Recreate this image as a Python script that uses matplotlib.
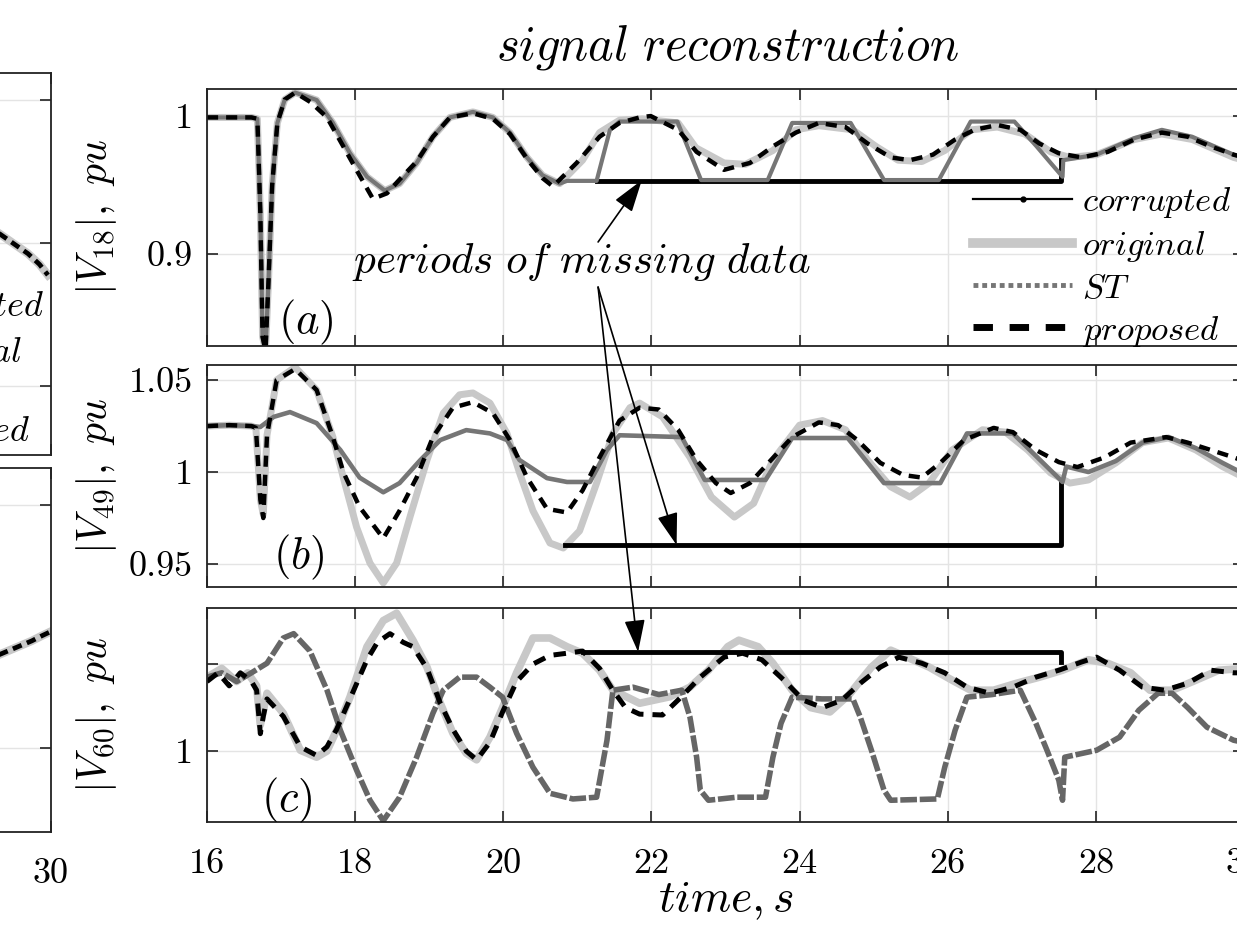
import matplotlib
matplotlib.use('Agg')
import matplotlib.pyplot as plt
from matplotlib.lines import Line2D

plt.rcParams['font.family'] = 'serif'
plt.rcParams['font.serif'] = ['cmr10', 'DejaVu Serif']
plt.rcParams['mathtext.fontset'] = 'cm'
plt.rcParams['axes.unicode_minus'] = False
plt.rcParams['axes.formatter.use_mathtext'] = True

# ---- data: (time [s], |V| [pu]) ----
orig_a = [(16.0, 0.999), (16.3, 0.999), (16.6, 0.999), (16.68, 0.998), (16.72, 0.93), (16.75, 0.84),
          (16.79, 0.83), (16.83, 0.88), (16.88, 0.95), (16.95, 0.995), (17.05, 1.012), (17.19, 1.017),
          (17.48, 1.0116), (17.70, 0.995), (17.93, 0.973), (18.16, 0.956), (18.40, 0.946), (18.60, 0.951),
          (18.83, 0.966), (19.05, 0.985), (19.28, 0.999), (19.59, 1.003), (19.86, 0.999), (20.09, 0.988),
          (20.32, 0.970), (20.53, 0.957), (20.76, 0.951), (21.07, 0.968), (21.30, 0.988), (21.57, 0.997),
          (21.88, 0.998), (22.36, 0.995), (22.60, 0.977), (22.98, 0.966), (23.27, 0.965), (23.64, 0.975),
          (23.95, 0.990), (24.26, 0.993), (24.72, 0.990), (25.03, 0.978), (25.33, 0.968), (25.65, 0.967),
          (25.96, 0.975), (26.32, 0.990), (26.67, 0.992), (27.04, 0.987), (27.39, 0.974), (27.65, 0.970),
          (28.01, 0.972), (28.52, 0.983), (28.89, 0.987), (29.30, 0.983), (29.86, 0.970), (30.0, 0.968)]
st_a_gap = [(20.86, 0.953), (21.26, 0.953), (21.44, 0.990), (21.57, 0.996), (22.35, 0.996), (22.67, 0.9536),
            (23.57, 0.9536), (23.90, 0.995), (24.69, 0.995), (25.14, 0.9536), (25.88, 0.9536), (26.31, 0.996),
            (26.90, 0.996), (27.20, 0.978), (27.39, 0.966), (27.55, 0.956), (27.56, 0.968), (28.01, 0.972),
            (28.52, 0.984), (28.89, 0.990), (29.30, 0.985), (29.86, 0.972), (30.0, 0.970)]
st_a = orig_a[:27] + st_a_gap
prop_a = [(16.0, 0.999), (16.3, 0.999), (16.6, 0.999), (16.68, 0.998), (16.72, 0.93), (16.75, 0.84),
          (16.79, 0.83), (16.83, 0.88), (16.88, 0.95), (16.95, 0.995), (17.05, 1.012), (17.19, 1.017),
          (17.40, 1.010), (17.62, 0.999), (17.84, 0.978), (18.07, 0.956), (18.24, 0.940), (18.43, 0.944),
          (18.60, 0.954), (18.83, 0.967), (19.05, 0.985), (19.28, 0.999), (19.59, 1.002), (19.86, 0.998),
          (20.09, 0.987), (20.32, 0.969), (20.53, 0.955), (20.67, 0.949), (20.99, 0.966), (21.30, 0.985),
          (21.57, 0.995), (21.84, 0.999), (21.99, 1.000), (22.36, 0.990), (22.61, 0.974), (22.98, 0.961),
          (23.33, 0.966), (23.64, 0.978), (23.95, 0.988), (24.26, 0.995), (24.62, 0.992), (24.92, 0.980),
          (25.23, 0.970), (25.49, 0.968), (25.80, 0.972), (26.10, 0.983), (26.36, 0.990), (26.67, 0.9935),
          (26.98, 0.990), (27.24, 0.980), (27.50, 0.973), (27.81, 0.970), (28.16, 0.974), (28.52, 0.983),
          (28.89, 0.988), (29.24, 0.985), (29.55, 0.978), (29.86, 0.972), (30.0, 0.970)]
corr_a = [(21.26, 0.953), (27.53, 0.953), (27.53, 0.968)]

orig_b = [(16.0, 1.025), (16.3, 1.0255), (16.6, 1.025), (16.66, 1.024), (16.72, 0.985), (16.76, 0.977),
          (16.81, 1.020), (16.94, 1.050), (17.19, 1.057), (17.48, 1.0446), (17.70, 1.019), (17.84, 0.997),
          (18.02, 0.970), (18.20, 0.9505), (18.38, 0.9397), (18.56, 0.9505), (18.74, 0.9755), (18.97, 1.0065),
          (19.19, 1.032), (19.41, 1.042), (19.59, 1.043), (19.82, 1.0375), (20.05, 1.021), (20.22, 0.9995),
          (20.40, 0.979), (20.63, 0.9614), (20.81, 0.9587), (21.03, 0.968), (21.26, 0.994), (21.48, 1.021),
          (21.71, 1.035), (21.84, 1.0375), (22.15, 1.030), (22.52, 1.008), (22.81, 0.9864), (23.12, 0.9755),
          (23.38, 0.983), (23.64, 1.0065), (24.00, 1.0255), (24.31, 1.028), (24.62, 1.023), (24.92, 1.0065),
          (25.23, 0.992), (25.49, 0.9864), (25.75, 0.994), (26.06, 1.012), (26.47, 1.023), (26.78, 1.0217),
          (27.08, 1.012), (27.39, 0.9995), (27.65, 0.994), (27.90, 0.9957), (28.27, 1.005), (28.63, 1.016),
          (28.98, 1.0185), (29.35, 1.012), (29.71, 1.003), (30.0, 0.997)]
st_b = [(16.0, 1.025), (16.3, 1.0255), (16.6, 1.025), (16.72, 1.0245), (16.90, 1.030), (17.12, 1.0326),
        (17.48, 1.0266), (17.80, 1.012), (18.06, 0.997), (18.38, 0.989), (18.60, 0.994), (18.88, 1.0065),
        (19.15, 1.0174), (19.50, 1.0228), (19.82, 1.021), (20.05, 1.0174), (20.22, 1.0065), (20.59, 0.9967),
        (20.86, 0.9946), (21.17, 0.9946), (21.40, 1.012), (21.57, 1.020), (22.41, 1.019), (22.72, 0.9957),
        (23.54, 0.9957), (23.90, 1.0185), (24.65, 1.0185), (25.14, 0.994), (25.90, 0.994), (26.26, 1.021),
        (26.88, 1.021), (27.55, 0.9946), (27.60, 1.003), (27.90, 1.000), (28.27, 1.006), (28.63, 1.016),
        (28.98, 1.019), (29.35, 1.013), (29.71, 1.005), (30.0, 0.999)]
prop_b = [(16.0, 1.025), (16.3, 1.0255), (16.6, 1.025), (16.66, 1.024), (16.72, 0.985), (16.76, 0.975),
          (16.81, 1.020), (16.94, 1.050), (17.19, 1.056), (17.48, 1.0446), (17.70, 1.019), (17.84, 1.000),
          (18.06, 0.981), (18.38, 0.964), (18.60, 0.979), (18.83, 0.997), (19.05, 1.019), (19.32, 1.035),
          (19.59, 1.038), (19.86, 1.032), (20.09, 1.0174), (20.32, 0.997), (20.59, 0.980), (20.86, 0.978),
          (21.07, 0.990), (21.30, 1.008), (21.57, 1.028), (21.84, 1.035), (22.10, 1.034), (22.36, 1.023),
          (22.61, 1.0065), (22.87, 0.994), (23.07, 0.9886), (23.33, 0.994), (23.58, 1.005), (23.90, 1.019),
          (24.26, 1.027), (24.52, 1.0255), (24.78, 1.0174), (25.09, 1.005), (25.40, 0.9984), (25.65, 0.997),
          (25.90, 1.005), (26.22, 1.0174), (26.62, 1.024), (26.88, 1.0217), (27.19, 1.012), (27.50, 1.0054),
          (27.75, 1.0027), (28.12, 1.008), (28.47, 1.016), (28.95, 1.019), (29.24, 1.016), (29.55, 1.012),
          (29.86, 1.008), (30.0, 1.006)]
corr_b = [(20.83, 0.9603), (27.53, 0.9603), (27.53, 0.994)]

orig_c = [(16.0, 1.017), (16.2, 1.019), (16.4, 1.016), (16.55, 1.018), (16.67, 1.015), (16.72, 1.006),
          (16.81, 1.0133), (17.03, 1.0087), (17.26, 1.0002), (17.48, 0.9986), (17.62, 1.000), (17.75, 1.0048),
          (17.93, 1.0124), (18.16, 1.024), (18.38, 1.030), (18.56, 1.0317), (18.78, 1.0255), (18.97, 1.0193),
          (19.15, 1.011), (19.32, 1.0041), (19.50, 0.9995), (19.64, 0.998), (19.82, 1.0032), (19.99, 1.010),
          (20.18, 1.018), (20.40, 1.026), (20.63, 1.026), (20.86, 1.024), (21.07, 1.0225), (21.30, 1.0186),
          (21.48, 1.014), (21.84, 1.011), (22.25, 1.0125), (22.52, 1.0147), (22.77, 1.0186), (23.03, 1.024),
          (23.18, 1.0255), (23.44, 1.024), (23.64, 1.0202), (23.90, 1.014), (24.15, 1.010), (24.41, 1.009),
          (24.67, 1.013), (24.97, 1.0193), (25.23, 1.0232), (25.45, 1.0216), (25.75, 1.0193), (26.06, 1.0163),
          (26.31, 1.014), (26.62, 1.014), (26.93, 1.0156), (27.24, 1.017), (27.55, 1.0186), (27.90, 1.021),
          (28.16, 1.0202), (28.47, 1.018), (28.73, 1.014), (29.03, 1.014), (29.35, 1.0163), (29.66, 1.0186),
          (30.0, 1.019)]
st_c = [(16.0, 1.017), (16.2, 1.018), (16.4, 1.016), (16.6, 1.018), (16.81, 1.0202), (17.03, 1.026),
        (17.17, 1.027), (17.39, 1.023), (17.62, 1.014), (17.80, 1.0048), (18.02, 0.9956), (18.20, 0.9887),
        (18.38, 0.984), (18.60, 0.9894), (18.83, 0.9986), (19.05, 1.0087), (19.19, 1.014), (19.41, 1.017),
        (19.64, 1.017), (19.82, 1.0147), (19.99, 1.0124), (20.18, 1.0041), (20.40, 0.9963), (20.63, 0.9903),
        (20.94, 0.989), (21.26, 0.9894), (21.40, 1.0025), (21.48, 1.014), (21.75, 1.0147), (22.10, 1.013),
        (22.41, 1.014), (22.52, 1.0078), (22.61, 0.9986), (22.66, 0.991), (22.77, 0.9887), (23.15, 0.9894),
        (23.54, 0.9894), (23.64, 0.9986), (23.75, 1.0064), (23.90, 1.0124), (24.30, 1.012), (24.72, 1.012),
        (24.82, 1.0078), (24.97, 1.0002), (25.14, 0.991), (25.23, 0.9887), (25.86, 0.989), (25.96, 0.9963),
        (26.10, 1.0048), (26.26, 1.0124), (26.60, 1.013), (26.98, 1.014), (27.19, 1.0064), (27.34, 1.0002),
        (27.50, 0.9933), (27.55, 0.9887), (27.58, 0.9986), (28.01, 1.0002), (28.32, 1.0032), (28.58, 1.0094),
        (28.84, 1.0133), (29.03, 1.0133), (29.24, 1.010), (29.50, 1.0055), (29.86, 1.0025), (30.0, 1.002)]
prop_c = [(16.0, 1.016), (16.15, 1.018), (16.3, 1.015), (16.45, 1.018), (16.6, 1.016), (16.67, 1.014),
          (16.72, 1.004), (16.76, 1.008), (16.81, 1.012), (17.03, 1.008), (17.26, 1.001), (17.48, 0.999),
          (17.62, 1.001), (17.75, 1.005), (17.93, 1.012), (18.16, 1.021), (18.30, 1.025), (18.47, 1.027),
          (18.65, 1.025), (18.78, 1.024), (18.97, 1.019), (19.15, 1.011), (19.32, 1.005), (19.50, 1.000),
          (19.64, 0.998), (19.82, 1.002), (19.99, 1.009), (20.18, 1.016), (20.40, 1.020), (20.63, 1.022),
          (20.86, 1.0225), (21.07, 1.023), (21.30, 1.019), (21.48, 1.014), (21.65, 1.010), (21.84, 1.0085),
          (22.15, 1.0083), (22.40, 1.0124), (22.66, 1.017), (22.98, 1.0216), (23.23, 1.0225), (23.49, 1.021),
          (23.79, 1.0163), (24.05, 1.0117), (24.31, 1.010), (24.57, 1.0117), (24.82, 1.0156), (25.09, 1.0193),
          (25.34, 1.0216), (25.65, 1.0202), (25.96, 1.018), (26.26, 1.0147), (26.57, 1.0133), (26.88, 1.0147),
          (27.19, 1.017), (27.50, 1.0186), (27.81, 1.0205), (28.01, 1.0216), (28.32, 1.0186), (28.63, 1.0147),
          (28.93, 1.014), (29.24, 1.0156), (29.55, 1.0186), (29.86, 1.018), (30.0, 1.018)]
corr_c = [(21.07, 1.0228), (27.53, 1.0228), (27.53, 1.0205)]

# partly visible panels on the left (only their right end shows)
left_top = [(28.6, 0.9815), (29.0, 0.9800), (29.4, 0.9785), (29.7, 0.9770), (29.92, 0.9755)]
left_bot = [(28.6, 1.0076), (28.9, 1.0080), (29.2, 1.0084), (29.5, 1.0088), (29.75, 1.0092), (29.95, 1.0095)]

xticks = [16, 18, 20, 22, 24, 26, 28, 30]
yticks_a, ylab_a = [0.9, 1.0], ['0.9', '1']
yticks_b, ylab_b = [0.95, 1.0, 1.05], ['0.95', '1', '1.05']
yticks_c, ylab_c = [1.0, 1.02], ['1', '']
labels = ['corrupted', 'original', 'ST', 'proposed']

C_ORIG = '#c8c8c8'
C_ST = '#767676'

W, H = 1237, 933
fig = plt.figure(figsize=(W / 100, H / 100), dpi=100)


def box(l, t, r, b):
    return [l / W, 1 - b / H, (r - l) / W, (b - t) / H]


def style(ax, yt, yl, xl=True):
    ax.set_xlim(16, 30)
    ax.set_xticks(xticks)
    ax.set_xticklabels([str(x) for x in xticks] if xl else [])
    ax.set_yticks(yt)
    ax.set_yticklabels(yl)
    ax.grid(True, color='#e4e4e4', lw=1.0)
    ax.set_axisbelow(True)
    ax.tick_params(direction='in', length=8, width=1.2, top=True, right=True,
                   labelsize=26, color='#222222')
    ax.tick_params(axis='x', pad=19)
    ax.tick_params(axis='y', pad=10)
    for s in ax.spines.values():
        s.set_linewidth(1.3)
        s.set_color('#222222')


def xy(pts):
    return [p[0] for p in pts], [p[1] for p in pts]


def draw(ax, orig, st, prop, corr, st_ls='-', st_lw=3.0, st_col=C_ST, noisy=False):
    ax.plot(*xy(orig), color=C_ORIG, lw=5.5 if noisy else 5, solid_joinstyle='round')
    ax.plot(*xy(corr), color='black', lw=3.5)
    ax.plot(*xy(st), color=st_col, lw=st_lw, ls=st_ls)
    ax.plot(*xy(prop), color='black', lw=3.6 if noisy else 3.2, dashes=(2.5, 1.8))


ax_a = fig.add_axes(box(207, 89, 1244, 346))
ax_b = fig.add_axes(box(207, 365, 1244, 587))
ax_c = fig.add_axes(box(207, 608, 1244, 822))

draw(ax_a, orig_a, st_a, prop_a, corr_a)
draw(ax_b, orig_b, st_b, prop_b, corr_b, st_lw=3.3)
draw(ax_c, orig_c, st_c, prop_c, corr_c, st_ls=(0, (3.0, 0.5)), st_lw=4.0, st_col='#666666', noisy=True)

ax_a.set_ylim(0.8333, 1.0196)
ax_b.set_ylim(0.9375, 1.0582)
ax_c.set_ylim(0.9837, 1.0329)
style(ax_a, yticks_a, ylab_a, xl=False)
style(ax_b, yticks_b, ylab_b, xl=False)
style(ax_c, yticks_c, ylab_c)

for ax, lab in [(ax_a, r'$|V_{18}|,\ pu$'), (ax_b, r'$|V_{49}|,\ pu$'), (ax_c, r'$|V_{60}|,\ pu$')]:
    ax.set_ylabel(lab, fontsize=30)
    ax.yaxis.set_label_coords(-0.085, 0.5)
ax_c.set_xlabel(r'$time, s$', fontsize=33, labelpad=0)

ax_a.text(0.095, 0.09, r'$(a)$', transform=ax_a.transAxes, fontsize=32, ha='center', va='center')
ax_b.text(0.088, 0.135, r'$(b)$', transform=ax_b.transAxes, fontsize=32, ha='center', va='center')
ax_c.text(0.077, 0.10, r'$(c)$', transform=ax_c.transAxes, fontsize=32, ha='center', va='center')

fig.text(728 / W, 1 - 47 / H, r'$signal\ reconstruction$', fontsize=35, ha='center', va='center')

# legend of panel (a)
handles = [
    Line2D([], [], color='black', lw=1.6, marker='.', markersize=7),
    Line2D([], [], color=C_ORIG, lw=7),
    Line2D([], [], color=C_ST, lw=3.5, ls=(0, (1, 0.8))),
    Line2D([], [], color='black', lw=5, dashes=(2.8, 2.4)),
]
ax_a.legend(handles, [r'$%s$' % s for s in labels], loc='upper left',
            bbox_to_anchor=(0.7387, 0.627), frameon=False, fontsize=25,
            handlelength=2.85, handletextpad=0.29, labelspacing=0.26, borderpad=0, borderaxespad=0)

# annotation with arrows
ax_a.text(21.06, 0.894, r'$periods\ of\ missing\ data$', fontsize=31, ha='center', va='center')
arrow = dict(arrowstyle='-|>,head_length=1.0,head_width=0.32', color='black', lw=1.2,
             mutation_scale=20, shrinkA=0, shrinkB=0)
ax_a.annotate('', xy=(21.87, 0.9535), xytext=(21.28, 0.9087), arrowprops=arrow, annotation_clip=False)
ax_b.annotate('', xy=(22.34, 0.9603), xytext=(21.28, 0.876), textcoords=ax_a.transData,
              arrowprops=arrow, annotation_clip=False)
ax_c.annotate('', xy=(21.82, 1.0228), xytext=(21.28, 0.876), textcoords=ax_a.transData,
              arrowprops=arrow, annotation_clip=False)

# left neighbour panels, cut by the image border
ax_l1 = fig.add_axes(box(-486, 73, 51, 455))
ax_l2 = fig.add_axes(box(-486, 468, 51, 832))
for ax, pts, yt, lim in [(ax_l1, left_top, [0.96, 0.98, 1.0], (0.9503, 1.0038)),
                         (ax_l2, left_bot, [1.0, 1.02], (0.9931, 1.023))]:
    ax.plot(*xy(pts), color=C_ORIG, lw=6)
    ax.plot(*xy(pts), color='black', lw=3.4, dashes=(2.0, 1.2))
    ax.set_ylim(*lim)
    style(ax, yt, [''] * len(yt), xl=(ax is ax_l2))
    ax.set_yticklabels([''] * len(yt))

fig.text(44 / W, 1 - 307 / H, r'$corrupted$', fontsize=26, ha='right', va='center')
fig.text(22 / W, 1 - 353 / H, r'$original$', fontsize=26, ha='right', va='center')
fig.text(30 / W, 1 - 432 / H, r'$proposed$', fontsize=26, ha='right', va='center')

fig.savefig('out.png', dpi=100)
